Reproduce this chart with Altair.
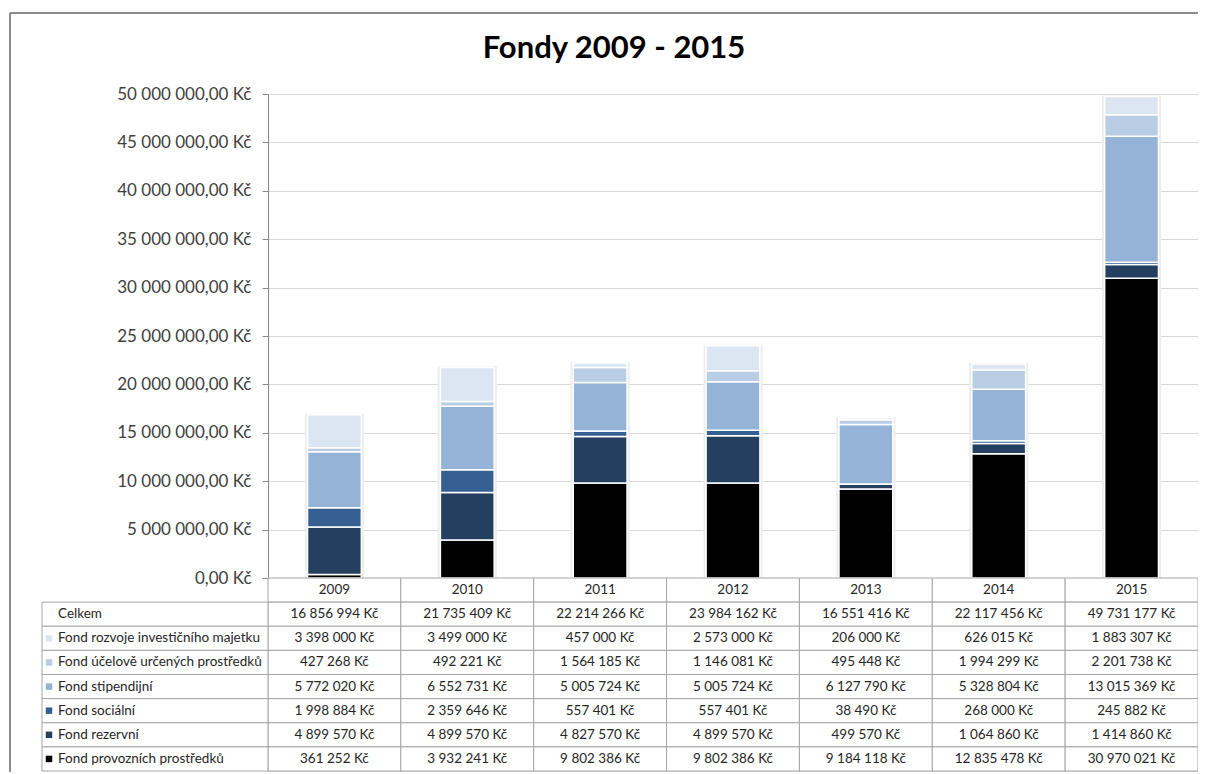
import altair as alt
import pandas as pd

title_text = "Fondy 2009 - 2015"
years = ["2009", "2010", "2011", "2012", "2013", "2014", "2015"]

# bottom -> top stacking order
funds = [
    "Fond provozních prostředků",
    "Fond rezervní",
    "Fond sociální",
    "Fond stipendijní",
    "Fond účelově určených prostředků",
    "Fond rozvoje investičního majetku",
]
colors = ["#000000", "#243F60", "#376092", "#95B3D7", "#B9CDE5", "#DCE6F2"]

provozni = [361252, 3932241, 9802386, 9802386, 9184118, 12835478, 30970021]
rezervni = [4899570, 4899570, 4827570, 4899570, 499570, 1064860, 1414860]
socialni = [1998884, 2359646, 557401, 557401, 38490, 268000, 245882]
stipendijni = [5772020, 6552731, 5005724, 5005724, 6127790, 5328804, 13015369]
ucelove = [427268, 492221, 1564185, 1146081, 495448, 1994299, 2201738]
rozvoje = [3398000, 3499000, 457000, 2573000, 206000, 626015, 1883307]
celkem = [16856994, 21735409, 22214266, 23984162, 16551416, 22117456, 49731177]
total_label = "Celkem"
y_ticks = [0, 5000000, 10000000, 15000000, 20000000, 25000000,
           30000000, 35000000, 40000000, 45000000, 50000000]

series = [provozni, rezervni, socialni, stipendijni, ucelove, rozvoje]

bar_rows = []
for fi, (f, vals) in enumerate(zip(funds, series)):
    for yr, v in zip(years, vals):
        bar_rows.append({"year": yr, "fund": f, "value": v, "order": fi})
bars_df = pd.DataFrame(bar_rows)
totals_df = pd.DataFrame({"year": years, "total": celkem})

row_domain = ["header", total_label] + funds[::-1]

value_rows = []
for yr, v in zip(years, celkem):
    value_rows.append({"year": yr, "row": total_label, "value": v})
for f, vals in zip(funds, series):
    for yr, v in zip(years, vals):
        value_rows.append({"year": yr, "row": f, "value": v})
values_df = pd.DataFrame(value_rows)

cells_df = pd.DataFrame([{"year": yr, "row": r} for yr in years for r in row_domain])
header_df = pd.DataFrame({"year": years, "row": ["header"] * len(years)})
labels_df = pd.DataFrame({"row": [total_label] + funds[::-1],
                          "fund": [""] + funds[::-1]})

W, H = 930, 677
BAR_H = 484
FONT = "Lato"
GRID_STROKE = "#a6a6a6"
TXT = 13.5

xenc = alt.X("year:N", scale=alt.Scale(domain=years, paddingInner=0, paddingOuter=0), axis=None)
yscale = alt.Scale(domain=[0, 50000000], range=[BAR_H, 0], nice=False)
yaxis = alt.Axis(
    values=y_ticks,
    labelExpr="replace(replace(format(datum.value, ',.2f'), regexp(',', 'g'), ' '), '.', ',') + ' Kč'",
    labelFont=FONT, labelFontSize=17, labelColor="#404040", labelPadding=11,
    tickSize=6, tickColor="#898989", domainColor="#898989",
    grid=True, gridColor="#d9d9d9", title="",
)
yrow = alt.Y("row:N", scale=alt.Scale(domain=row_domain, range=[BAR_H, H],
                                        paddingInner=0, paddingOuter=0), axis=None)
color_scale = alt.Scale(domain=funds, range=colors)

shadow = alt.Chart(totals_df).mark_bar(
    width=alt.RelativeBandSize(0.43), color="#e9e9e9", stroke="#ededed", strokeWidth=2
).encode(x=xenc, y=alt.Y("total:Q", scale=yscale, axis=yaxis))

stack = alt.Chart(bars_df).mark_bar(
    width=alt.RelativeBandSize(0.405), stroke="white", strokeWidth=1.5
).encode(
    x=xenc,
    y=alt.Y("value:Q", stack="zero", scale=yscale, axis=yaxis),
    color=alt.Color("fund:N", scale=color_scale, legend=None),
    order=alt.Order("order:Q", sort="ascending"),
)

bar_group = alt.layer(shadow, stack)

cells = alt.Chart(cells_df).mark_rect(fill="white", stroke=GRID_STROKE, strokeWidth=1).encode(
    x=xenc, y=yrow
)
left_cells = alt.Chart(labels_df).mark_rect(fill="white", stroke=GRID_STROKE, strokeWidth=1).encode(
    x=alt.value(-226), x2=alt.value(0), y=yrow
)
header_text = alt.Chart(header_df).mark_text(font=FONT, fontSize=TXT, color="#262626").encode(
    x=xenc, y=yrow, text="year:N"
)
value_text = alt.Chart(values_df).transform_calculate(
    label="replace(format(datum.value, ','), regexp(',', 'g'), ' ') + ' Kč'"
).mark_text(font=FONT, fontSize=TXT, color="#262626").encode(
    x=xenc, y=yrow, text="label:N"
)
label_text = alt.Chart(labels_df).mark_text(font=FONT, fontSize=TXT, color="#262626", align="left").encode(
    x=alt.value(-210), y=yrow, text="row:N"
)
squares = alt.Chart(labels_df).transform_filter("datum.fund != ''").mark_square(
    size=42, opacity=1
).encode(
    x=alt.value(-219), y=yrow,
    color=alt.Color("fund:N", scale=color_scale, legend=None),
)
table_group = alt.layer(cells, left_cells, header_text, value_text, label_text, squares)

frame_df = pd.DataFrame({"k": [0]})
frame_left = alt.Chart(frame_df).mark_rule(color="#8c8c8c", strokeWidth=2).encode(
    x=alt.value(-258), y=alt.value(-81), y2=alt.value(H + 40)
)
frame_top = alt.Chart(frame_df).mark_rule(color="#8c8c8c", strokeWidth=2).encode(
    x=alt.value(-258), x2=alt.value(W + 40), y=alt.value(-81)
)

title = alt.Chart(pd.DataFrame({"t": [title_text]})).mark_text(
    font=FONT, fontSize=31, fontWeight="bold", color="#000000", baseline="alphabetic"
).encode(x=alt.value(346), y=alt.value(-36), text="t:N")

chart = alt.layer(frame_left, frame_top, title, bar_group, table_group).resolve_scale(
    y="independent"
).properties(
    width=W, height=H,
    autosize=alt.AutoSizeParams(type="none"),
    padding={"left": 260, "top": 86, "right": 0, "bottom": 1},
).configure_view(stroke="transparent").configure(font=FONT)

chart.save("out.html", embed_options={"renderer": "svg", "actions": False})
